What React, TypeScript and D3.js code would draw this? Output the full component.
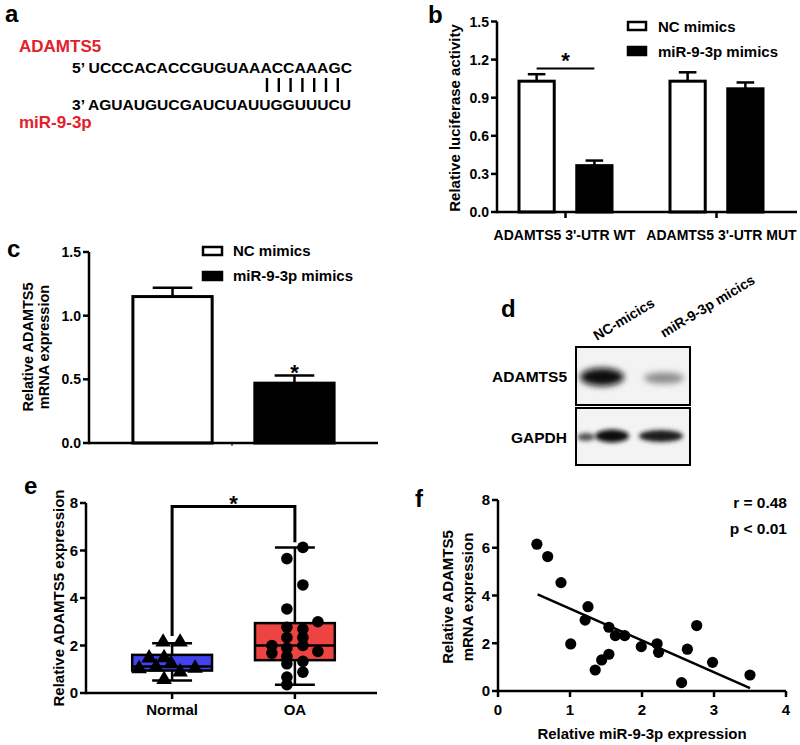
import React from "react";
import * as d3 from "d3";

// ---------- DATA ----------
// panel a
const targetName = "ADAMTS5";
const mirName = "miR-9-3p";
const seq5 = "5\u2019 UCCCACACCGUGUAAACCAAAGC";
const seq3 = "3\u2019 AGUAUGUCGAUCUAUUGGUUUCU";
const pairCount = 7;

// panel b
const lucGroups = ["ADAMTS5 3'-UTR WT", "ADAMTS5 3'-UTR MUT"];
const seriesNames = ["NC mimics", "miR-9-3p mimics"];
const lucNC = [1.03, 1.03];
const lucNCErr = [0.055, 0.07];
const lucMiR = [0.365, 0.97];
const lucMiRErr = [0.04, 0.05];
const lucTicks = [0, 0.3, 0.6, 0.9, 1.2, 1.5];

// panel c
const mrnaVals = [1.15, 0.47];
const mrnaErr = [0.07, 0.06];
const mrnaTicks = [0, 0.5, 1.0, 1.5];

// panel d
const laneLabels = ["NC-micics", "miR-9-3p micics"];
const blotRows = ["ADAMTS5", "GAPDH"];

// panel e
const boxGroups = ["Normal", "OA"];
const normalVals = [2.1, 2.1, 1.43, 1.44, 0.98, 1.05, 1.19, 0.84, 1.0, 0.53];
const normalJitter = [-9, 8, -23, -8, -33, -16, -1, 8, 23, -8];
const oaVals = [6.13, 5.66, 4.55, 3.54, 3.0, 2.77, 2.69, 2.34, 2.34, 2.0, 2.0, 1.89, 1.68, 1.75, 1.54, 1.23, 1.33, 0.88, 0.67, 0.35];
const oaJitter = [8, -8, 8, -8, 23, -8, 8, -8, 8, -23, 8, -8, -23, 23, -8, -8, 8, 8, -8, -8];
const boxTicks = [0, 2, 4, 6, 8];
const bracketLevels = [2.4, 7.85, 6.35];

// panel f
const mirX = [0.54, 0.69, 0.875, 1.25, 1.21, 1.01, 1.54, 1.63, 1.76, 1.54, 1.44, 1.35, 1.99, 2.21, 2.23, 2.63, 2.76, 2.55, 2.98, 3.5];
const adamY = [6.15, 5.63, 4.54, 3.53, 2.97, 1.97, 2.67, 2.32, 2.32, 1.54, 1.3, 0.88, 1.86, 1.98, 1.62, 1.75, 2.74, 0.35, 1.2, 0.67];
const fitX = [0.55, 3.5];
const fitY = [4.05, 0.12];
const scatterXTicks = [0, 1, 2, 3, 4];
const scatterYTicks = [0, 2, 4, 6, 8];
const statsText = ["r = 0.48", "p < 0.01"];

// ---------- helpers ----------
const FONT = "'Liberation Sans', Arial, Helvetica, sans-serif";
const BLUE = "#4343EE";
const RED = "#EE4343";

function q(sorted: number[], p: number) {
  // GraphPad-style (n+1) quantile
  const n = sorted.length;
  const pos = p * (n + 1) - 1;
  const lo = Math.max(0, Math.min(n - 1, Math.floor(pos)));
  const hi = Math.max(0, Math.min(n - 1, lo + 1));
  const f = pos - Math.floor(pos);
  return sorted[lo] + (sorted[hi] - sorted[lo]) * f;
}

function fmt(v: number, digits: number) {
  return v.toFixed(digits);
}

function YAxis({ scale, ticks, x, digits, size = 14 }: any) {
  const [r0, r1] = scale.range();
  return (
    <g>
      <line x1={x} x2={x} y1={r0 + 1.2} y2={r1} stroke="#000" strokeWidth={2.5} />
      {ticks.map((t: number) => (
        <g key={t}>
          <line x1={x - 6} x2={x} y1={scale(t)} y2={scale(t)} stroke="#000" strokeWidth={2.5} />
          <text x={x - 8} y={scale(t)} dy="0.36em" textAnchor="end" fontSize={size}>
            {fmt(t, digits)}
          </text>
        </g>
      ))}
    </g>
  );
}

export default function App() {
  // ---- panel a
  const pairX0 = 267;
  const pairStep = 11.8;

  // ---- panel b
  const bx = d3.scaleBand().domain(lucGroups).range([490, 792]);
  const bxi = d3.scaleBand().domain(seriesNames).range([29, 122]).paddingInner(0.39);
  const by = d3.scaleLinear().domain([0, 1.5]).range([212, 21.5]);
  const lucSeries = [
    { vals: lucNC, err: lucNCErr, fill: "#fff" },
    { vals: lucMiR, err: lucMiRErr, fill: "#000" },
  ];

  // ---- panel c
  const cx = d3.scaleBand().domain(seriesNames).range([89, 378]).paddingInner(0.35).paddingOuter(0.36);
  const cy = d3.scaleLinear().domain([0, 1.5]).range([443, 252]);

  // ---- panel e
  const ex = d3.scaleBand().domain(boxGroups).range([88, 379]).paddingInner(0.35).paddingOuter(0.36);
  const ey = d3.scaleLinear().domain([0, 8]).range([693, 503]);
  const boxData = [
    { name: boxGroups[0], vals: normalVals, jit: normalJitter, fill: BLUE, shape: "tri" },
    { name: boxGroups[1], vals: oaVals, jit: oaJitter, fill: RED, shape: "circ" },
  ].map((g) => {
    const s = [...g.vals].sort((a, b) => a - b);
    return { ...g, min: s[0], max: s[s.length - 1], q1: q(s, 0.25), med: q(s, 0.5), q3: q(s, 0.75) };
  });
  const triPath = d3.symbol(d3.symbolTriangle, 105)() as string;

  // ---- panel f
  const fx = d3.scaleLinear().domain([0, 4]).range([498, 786]);
  const fy = d3.scaleLinear().domain([0, 8]).range([691, 500]);
  const fitLine = d3.line<number>().x((_, i) => fx(fitX[i])).y((v) => fy(v));

  return (
    <svg
      width={800}
      height={745}
      style={{ position: "absolute", left: 0, top: 0, background: "#fff" }}
      fontFamily={FONT}
      fontWeight="bold"
    >
      <defs>
        <filter id="blur3" x="-50%" y="-100%" width="200%" height="300%">
          <feGaussianBlur stdDeviation="3.2" />
        </filter>
        <filter id="blur2" x="-50%" y="-100%" width="200%" height="300%">
          <feGaussianBlur stdDeviation="2.2" />
        </filter>
      </defs>
      <rect x={0} y={0} width={800} height={745} fill="#fff" />

      {/* ===== panel a ===== */}
      <g>
        <text x={5} y={22} fontSize={24}>a</text>
        <text x={19} y={52} fontSize={17} fill="#E3202A">{targetName}</text>
        <text x={72} y={73} fontSize={15} textLength={280} lengthAdjust="spacingAndGlyphs">{seq5}</text>
        {d3.range(pairCount).map((i) => (
          <line key={i} x1={pairX0 + i * pairStep} x2={pairX0 + i * pairStep} y1={78} y2={92} stroke="#000" strokeWidth={2.4} />
        ))}
        <text x={72} y={110} fontSize={15} textLength={279} lengthAdjust="spacingAndGlyphs">{seq3}</text>
        <text x={19} y={128} fontSize={17} fill="#E3202A">{mirName}</text>
      </g>

      {/* ===== panel b ===== */}
      <g>
        <text x={428} y={23} fontSize={24}>b</text>
        {lucGroups.map((g, gi) =>
          lucSeries.map((s, si) => {
            const x0 = (bx(g) as number) + (bxi(seriesNames[si]) as number);
            const w = bxi.bandwidth();
            const cxm = x0 + w / 2;
            return (
              <g key={g + si}>
                <line x1={cxm} x2={cxm} y1={by(s.vals[gi])} y2={by(s.vals[gi] + s.err[gi])} stroke="#000" strokeWidth={2.5} />
                <line x1={cxm - w / 4} x2={cxm + w / 4} y1={by(s.vals[gi] + s.err[gi])} y2={by(s.vals[gi] + s.err[gi])} stroke="#000" strokeWidth={2.5} />
                <rect x={x0} y={by(s.vals[gi])} width={w} height={by(0) - by(s.vals[gi])} fill={s.fill} stroke="#000" strokeWidth={3} />
              </g>
            );
          })
        )}
        <YAxis scale={by} ticks={lucTicks} x={497} digits={1} />
        <line x1={497} x2={797} y1={212} y2={212} stroke="#000" strokeWidth={2.5} />
        {lucGroups.map((g, gi) => {
          const c = (bx(g) as number) + bx.bandwidth() / 2;
          return (
            <g key={g}>
              <line x1={c} x2={c} y1={212} y2={218} stroke="#000" strokeWidth={2.5} />
              <text x={c} dx={gi === 0 ? -1 : 5} y={240} textAnchor="middle" fontSize={14}>{g}</text>
            </g>
          );
        })}
        {/* significance */}
        {(() => {
          const g = lucGroups[0];
          const c1 = (bx(g) as number) + (bxi(seriesNames[0]) as number) + bxi.bandwidth() / 2;
          const c2 = (bx(g) as number) + (bxi(seriesNames[1]) as number) + bxi.bandwidth() / 2;
          return (
            <g>
              <line x1={c1} x2={c2} y1={by(1.13)} y2={by(1.13)} stroke="#000" strokeWidth={2} />
              <text x={(c1 + c2) / 2} y={68} textAnchor="middle" fontSize={22}>*</text>
            </g>
          );
        })()}
        <text transform="translate(455,118) rotate(-90)" textAnchor="middle" dy="0.36em" fontSize={15}>
          Relative luciferase activity
        </text>
        {seriesNames.map((s, i) => (
          <g key={s}>
            <rect x={628} y={22 + i * 25} width={18} height={8} fill={i === 0 ? "#fff" : "#000"} stroke="#000" strokeWidth={2.5} />
            <text x={658} y={31.5 + i * 25} fontSize={15}>{s}</text>
          </g>
        ))}
      </g>

      {/* ===== panel c ===== */}
      <g>
        <text x={7} y={257} fontSize={24}>c</text>
        {seriesNames.map((s, i) => {
          const x0 = cx(s) as number;
          const w = cx.bandwidth();
          const m = x0 + w / 2;
          return (
            <g key={s}>
              <line x1={m} x2={m} y1={cy(mrnaVals[i])} y2={cy(mrnaVals[i] + mrnaErr[i])} stroke="#000" strokeWidth={2.5} />
              <line x1={m - w / 4} x2={m + w / 4} y1={cy(mrnaVals[i] + mrnaErr[i])} y2={cy(mrnaVals[i] + mrnaErr[i])} stroke="#000" strokeWidth={2.5} />
              <rect x={x0} y={cy(mrnaVals[i])} width={w} height={cy(0) - cy(mrnaVals[i])} fill={i === 0 ? "#fff" : "#000"} stroke="#000" strokeWidth={3} />
            </g>
          );
        })}
        <text x={(cx(seriesNames[1]) as number) + cx.bandwidth() / 2} y={380} textAnchor="middle" fontSize={22}>*</text>
        <YAxis scale={cy} ticks={mrnaTicks} x={89} digits={1} />
        <line x1={89} x2={378} y1={443} y2={443} stroke="#000" strokeWidth={2.5} />
        <line x1={232} x2={232} y1={443} y2={446} stroke="#000" strokeWidth={1} />
        <text transform="translate(28,347) rotate(-90)" textAnchor="middle" dy="0.36em" fontSize={14.5}>Relative ADAMTS5</text>
        <text transform="translate(44,347) rotate(-90)" textAnchor="middle" dy="0.36em" fontSize={14.5}>mRNA expression</text>
        {seriesNames.map((s, i) => (
          <g key={s}>
            <rect x={203} y={247 + i * 25} width={19} height={8} fill={i === 0 ? "#fff" : "#000"} stroke="#000" strokeWidth={2.5} />
            <text x={233} y={256 + i * 25} fontSize={15}>{s}</text>
          </g>
        ))}
      </g>

      {/* ===== panel d ===== */}
      <g>
        <text x={501} y={317} fontSize={24}>d</text>
        {laneLabels.map((l, i) => (
          <text key={l} transform={`translate(${597 + i * 67},${341 - i * 3}) rotate(-31)`} fontSize={14}>
            {l}
          </text>
        ))}
        <rect x={576} y={347} width={114} height={58} fill="#f3f3f3" stroke="#000" strokeWidth={2} />
        <rect x={576} y={408} width={114} height={57} fill="#f3f3f3" stroke="#000" strokeWidth={2} />
        <ellipse cx={602} cy={377} rx={22} ry={9} fill="#0c0c0c" filter="url(#blur3)" />
        <ellipse cx={664} cy={378} rx={20} ry={5.5} fill="#8a8a8a" filter="url(#blur3)" />
        <ellipse cx={586} cy={437} rx={9} ry={4} fill="#555" filter="url(#blur2)" />
        <ellipse cx={612} cy={436} rx={17} ry={6.5} fill="#111" filter="url(#blur2)" />
        <ellipse cx={661} cy={436} rx={22} ry={6} fill="#1a1a1a" filter="url(#blur2)" />
        {blotRows.map((r, i) => (
          <text key={r} x={567} y={i === 0 ? 382 : 443} textAnchor="end" fontSize={15.5}>{r}</text>
        ))}
      </g>

      {/* ===== panel e ===== */}
      <g>
        <text x={24} y={494} fontSize={24}>e</text>
        {boxData.map((g) => {
          const x0 = ex(g.name) as number;
          const w = ex.bandwidth();
          const m = x0 + w / 2;
          return (
            <g key={g.name}>
              <line x1={m} x2={m} y1={ey(g.min)} y2={ey(g.max)} stroke="#000" strokeWidth={2.5} />
              <line x1={m - w / 4} x2={m + w / 4} y1={ey(g.min)} y2={ey(g.min)} stroke="#000" strokeWidth={2.5} />
              <line x1={m - w / 4} x2={m + w / 4} y1={ey(g.max)} y2={ey(g.max)} stroke="#000" strokeWidth={2.5} />
              <rect x={x0} y={ey(g.q3)} width={w} height={ey(g.q1) - ey(g.q3)} fill={g.fill} stroke="#000" strokeWidth={2.5} />
              <line x1={x0} x2={x0 + w} y1={ey(g.med)} y2={ey(g.med)} stroke="#000" strokeWidth={2.5} />
              {g.vals.map((v, i) =>
                g.shape === "tri" ? (
                  <path key={i} d={triPath} transform={`translate(${m + g.jit[i]},${ey(v) - 1})`} fill="#000" />
                ) : (
                  <circle key={i} cx={m + g.jit[i]} cy={ey(v)} r={5.8} fill="#000" />
                )
              )}
            </g>
          );
        })}
        {(() => {
          const m1 = (ex(boxGroups[0]) as number) + ex.bandwidth() / 2;
          const m2 = (ex(boxGroups[1]) as number) + ex.bandwidth() / 2;
          return (
            <g>
              <path
                d={`M${m1},${ey(bracketLevels[0])}V${ey(bracketLevels[1])}H${m2}V${ey(bracketLevels[2])}`}
                fill="none"
                stroke="#000"
                strokeWidth={3}
              />
              <text x={(m1 + m2) / 2} y={511} textAnchor="middle" fontSize={22}>*</text>
            </g>
          );
        })()}
        <YAxis scale={ey} ticks={boxTicks} x={86} digits={0} size={15} />
        <line x1={86} x2={377} y1={693} y2={693} stroke="#000" strokeWidth={2.5} />
        {boxGroups.map((g) => {
          const m = (ex(g) as number) + ex.bandwidth() / 2;
          return (
            <g key={g}>
              <line x1={m} x2={m} y1={693} y2={699} stroke="#000" strokeWidth={2.5} />
              <text x={m} y={715} textAnchor="middle" fontSize={15}>{g}</text>
            </g>
          );
        })}
        <text transform="translate(59,598) rotate(-90)" textAnchor="middle" dy="0.36em" fontSize={15}>
          Relative ADAMTS5 expression
        </text>
      </g>

      {/* ===== panel f ===== */}
      <g>
        <text x={415} y={507} fontSize={24}>f</text>
        <YAxis scale={fy} ticks={scatterYTicks} x={498} digits={0} size={15} />
        <line x1={498} x2={786} y1={691} y2={691} stroke="#000" strokeWidth={2.5} />
        {scatterXTicks.map((t) => (
          <g key={t}>
            <line x1={fx(t)} x2={fx(t)} y1={691} y2={697} stroke="#000" strokeWidth={2.5} />
            <text x={fx(t)} y={715} textAnchor="middle" fontSize={15}>{t}</text>
          </g>
        ))}
        <path d={fitLine(fitY) as string} stroke="#000" strokeWidth={2.5} fill="none" />
        {mirX.map((x, i) => (
          <circle key={i} cx={fx(x)} cy={fy(adamY[i])} r={5.6} fill="#000" />
        ))}
        {statsText.map((s, i) => (
          <text key={s} x={787} y={508 + i * 26} textAnchor="end" fontSize={15.5}>{s}</text>
        ))}
        <text x={642} y={739} textAnchor="middle" fontSize={15}>Relative miR-9-3p expression</text>
        <text transform="translate(448,597) rotate(-90)" textAnchor="middle" dy="0.36em" fontSize={15}>Relative ADAMTS5</text>
        <text transform="translate(468,597) rotate(-90)" textAnchor="middle" dy="0.36em" fontSize={15}>mRNA expression</text>
      </g>
    </svg>
  );
}
